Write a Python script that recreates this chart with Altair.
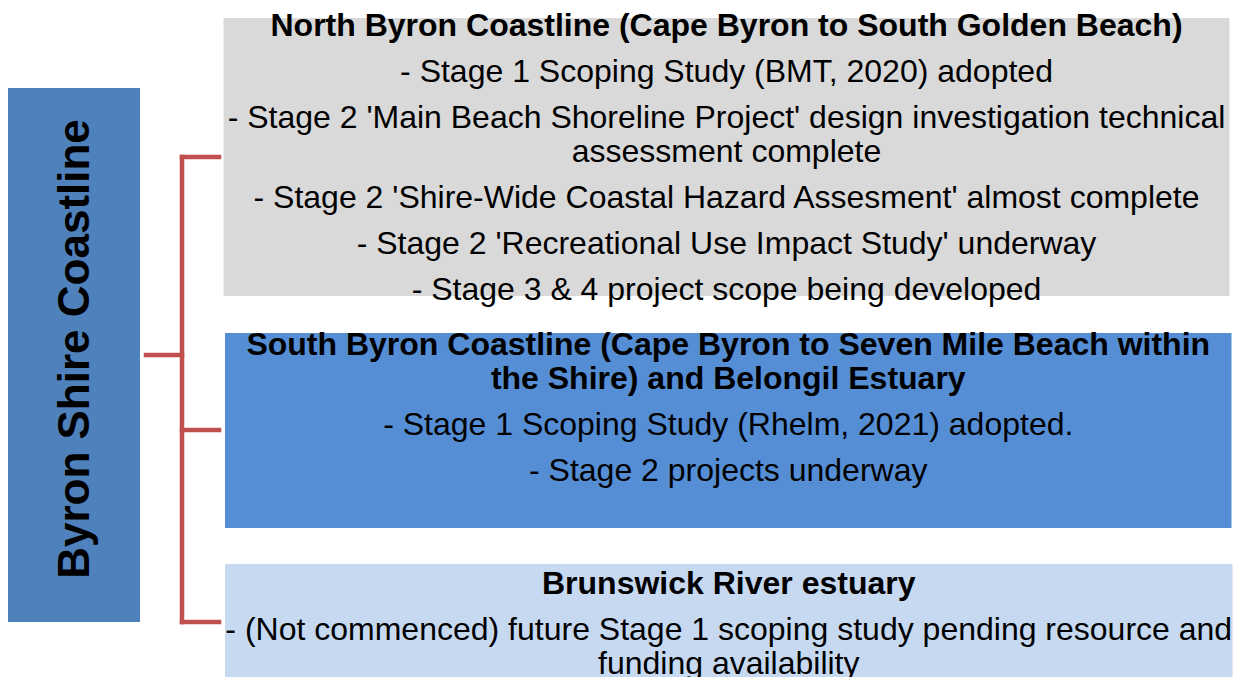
import altair as alt
import pandas as pd

# ---------------- content ----------------
root_label = "Byron Shire Coastline"

box_titles = [
    ["North Byron Coastline (Cape Byron to South Golden Beach)"],
    ["South Byron Coastline (Cape Byron to Seven Mile Beach within",
     "the Shire) and Belongil Estuary"],
    ["Brunswick River estuary"],
]

box_items = [
    [["- Stage 1 Scoping Study (BMT, 2020) adopted"],
     ["- Stage 2 'Main Beach Shoreline Project' design investigation technical",
      "assessment complete"],
     ["- Stage 2 'Shire-Wide Coastal Hazard Assesment' almost complete"],
     ["- Stage 2 'Recreational Use Impact Study' underway"],
     ["- Stage 3 & 4 project scope being developed"]],
    [["- Stage 1 Scoping Study (Rhelm, 2021) adopted."],
     ["- Stage 2 projects underway"]],
    [["- (Not commenced) future Stage 1 scoping study pending resource and",
      "funding availability"]],
]

box_colors = ["#d9d9d9", "#558ed5", "#c6d9f1"]
root_color = "#4f81bd"
connector_color = "#c0504d"

# ---------------- layout (pixel-space) ----------------
W, H = 1224, 655
X0, Y0 = 8, 8
box_x = [(222.5, 1228.5), (224, 1230.5), (224, 1231.5)]
box_y = [(18, 296), (333, 528), (564, 700)]
box_first_baseline = [36, 355, 593.5]
line_step = 34
para_step = 46
root_box = (7, 139, 88, 622)
branch_y = [157, 430, 622]
trunk_x = 181
root_y = 355
FONT = "Liberation Sans"

rects = [dict(x=a, x2=b, y=c, y2=d, fill=col)
         for (a, b), (c, d), col in zip(box_x, box_y, box_colors)]
rects.append(dict(x=root_box[0], x2=root_box[1], y=root_box[2], y2=root_box[3],
                  fill=root_color))
rect_df = pd.DataFrame(rects)

bold_rows, norm_rows = [], []
for i in range(3):
    cx = (box_x[i][0] + box_x[i][1]) / 2
    y = box_first_baseline[i]
    for j, line in enumerate(box_titles[i]):
        if j > 0:
            y += line_step
        bold_rows.append(dict(x=cx, y=y, text=line))
    for para in box_items[i]:
        y += para_step
        for j, line in enumerate(para):
            if j > 0:
                y += line_step
            norm_rows.append(dict(x=cx, y=y, text=line))
bold_df = pd.DataFrame(bold_rows)
norm_df = pd.DataFrame(norm_rows)

segs = [dict(x=145, x2=trunk_x, y=root_y, y2=root_y),
        dict(x=trunk_x, x2=trunk_x, y=branch_y[0], y2=branch_y[-1])]
for by in branch_y:
    segs.append(dict(x=trunk_x, x2=218, y=by, y2=by))
seg_df = pd.DataFrame(segs)

xs = alt.Scale(domain=[X0, X0 + W])
ys = alt.Scale(domain=[Y0, Y0 + H], reverse=True)

rect_layer = alt.Chart(rect_df).mark_rect().encode(
    x=alt.X("x:Q", scale=xs, axis=None), x2="x2:Q",
    y=alt.Y("y:Q", scale=ys, axis=None), y2="y2:Q",
    fill=alt.Fill("fill:N", scale=None),
)

seg_layer = alt.Chart(seg_df).mark_rule(
    color=connector_color, strokeWidth=4.5, strokeCap="square"
).encode(
    x=alt.X("x:Q", scale=xs, axis=None), x2="x2:Q",
    y=alt.Y("y:Q", scale=ys, axis=None), y2="y2:Q",
)

bold_layer = alt.Chart(bold_df).mark_text(
    font=FONT, fontSize=32, fontWeight="bold", align="center",
    baseline="alphabetic", color="black"
).encode(
    x=alt.X("x:Q", scale=xs, axis=None),
    y=alt.Y("y:Q", scale=ys, axis=None),
    text="text:N",
)

norm_layer = alt.Chart(norm_df).mark_text(
    font=FONT, fontSize=32, align="center", baseline="alphabetic", color="black"
).encode(
    x=alt.X("x:Q", scale=xs, axis=None),
    y=alt.Y("y:Q", scale=ys, axis=None),
    text="text:N",
)

root_df = pd.DataFrame([dict(x=88, y=349, text=root_label)])
root_layer = alt.Chart(root_df).mark_text(
    font=FONT, fontSize=44, fontWeight="bold", align="center",
    baseline="alphabetic", angle=270, color="black"
).encode(
    x=alt.X("x:Q", scale=xs, axis=None),
    y=alt.Y("y:Q", scale=ys, axis=None),
    text="text:N",
)

chart = alt.layer(rect_layer, seg_layer, bold_layer, norm_layer, root_layer).properties(
    width=W, height=H, padding=0, background="white"
).configure_view(stroke=None)

chart.save("out.html", embed_options={"renderer": "svg", "actions": False})
